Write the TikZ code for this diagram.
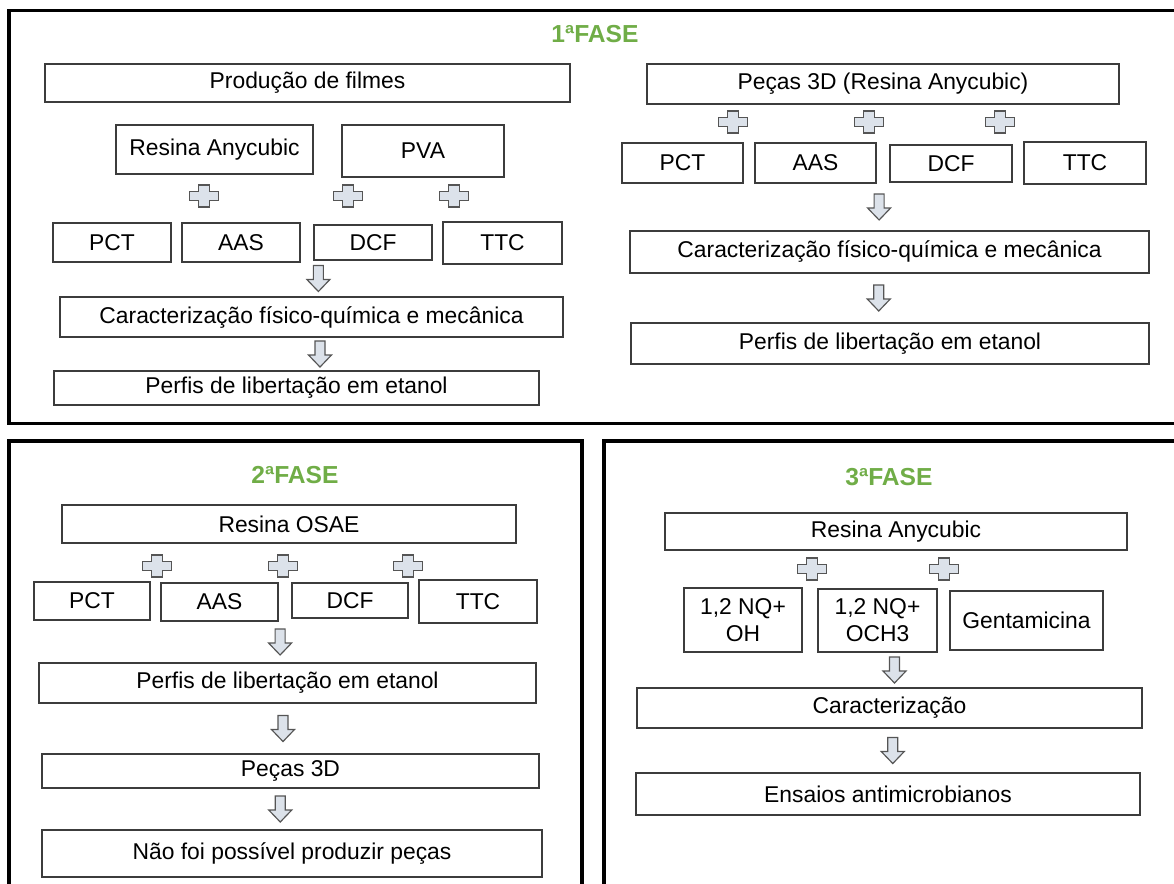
\documentclass[tikz,border=0pt]{standalone}
\usepackage{fontspec}
\setmainfont{Liberation Sans}
\usetikzlibrary{calc}
\newlength{\pxu}
\setlength{\pxu}{0.03cm}
\definecolor{fasegreen}{HTML}{70AD47}
\definecolor{boxline}{HTML}{3C3C3C}
\definecolor{arrfill}{HTML}{DCE2EA}
\definecolor{arrline}{HTML}{555555}

\begin{document}
\begin{tikzpicture}[x=\pxu, y=-\pxu,
  box/.style={draw=boxline, line width=1.2pt, inner sep=0pt, align=center,
    font=\fontsize{19.5}{23}\selectfont},
  frame/.style={draw=black, line width=2.6pt},
  fase/.style={text=fasegreen, font=\fontsize{21}{24}\selectfont\bfseries},
  plussign/.pic={\draw[draw=arrline, fill=arrfill, line width=1pt]
    (-5.5,-11) -- (5.5,-11) -- (5.5,-4.75) -- (14.5,-4.75) -- (14.5,4.75) -- (5.5,4.75)
    -- (5.5,11) -- (-5.5,11) -- (-5.5,4.75) -- (-14.5,4.75) -- (-14.5,-4.75) -- (-5.5,-4.75) -- cycle;},
  downarr/.pic={\draw[draw=arrline, fill=arrfill, line width=1pt]
    (-5,-13) -- (5,-13) -- (5,1) -- (11.5,1) -- (0,13) -- (-11.5,1) -- (-5,1) -- cycle;}]
  \useasboundingbox (0,0) rectangle (1174,883);

  % frames
  \draw[frame] (9,10.5) rectangle (1185,423.5);
  \draw[frame] (9,441) rectangle (582,895);
  \draw[frame] (604,441) rectangle (1185,895);

  % 1a fase, filmes
  \node[fase] (f1) at (595,34) {1ªFASE};
  \node[box, minimum width=525\pxu, minimum height=38\pxu] (prod1) at (307.5,83) {Produção de filmes};
  \node[box, minimum width=197\pxu, minimum height=49\pxu] (resina1) at (214.5,149.5) {Resina Anycubic};
  \node[box, minimum width=162\pxu, minimum height=52\pxu] (pva1) at (423,151) {PVA};
  \pic (pa1) at (204,196) {plussign};
  \pic (pa2) at (348,196) {plussign};
  \pic (pa3) at (454,196) {plussign};
  \node[box, minimum width=118\pxu, minimum height=39\pxu] (pct1) at (112,242.5) {PCT};
  \node[box, minimum width=118\pxu, minimum height=39\pxu] (aas1) at (241,242.5) {AAS};
  \node[box, minimum width=118\pxu, minimum height=35\pxu] (dcf1) at (373,242.5) {DCF};
  \node[box, minimum width=119\pxu, minimum height=42\pxu] (ttc1) at (502.5,243) {TTC};
  \node[box, minimum width=503\pxu, minimum height=40\pxu] (car1) at (311.5,317) {Caracterização físico-química e mecânica};
  \node[box, minimum width=485\pxu, minimum height=34\pxu] (per1) at (296.5,388) {Perfis de libertação em etanol};
  \path (dcf1.south west) -- (car1.north) pic[pos=.5, xshift=6\pxu] {downarr};
  \path (car1.south) -- (per1.north) pic[pos=.5, xshift=16\pxu] {downarr};

  % 1a fase, pecas 3D
  \node[box, minimum width=472\pxu, minimum height=40\pxu] (pecas1) at (883,84) {Peças 3D (Resina Anycubic)};
  \pic (pb1) at (733,122) {plussign};
  \pic (pb2) at (869,122) {plussign};
  \pic (pb3) at (1000,122) {plussign};
  \node[box, minimum width=121\pxu, minimum height=40\pxu] (pct2) at (682.5,163) {PCT};
  \node[box, minimum width=121\pxu, minimum height=40\pxu] (aas2) at (815.5,163) {AAS};
  \node[box, minimum width=122\pxu, minimum height=37\pxu] (dcf2) at (951,163.5) {DCF};
  \node[box, minimum width=122\pxu, minimum height=42\pxu] (ttc2) at (1085,163) {TTC};
  \node[box, minimum width=519\pxu, minimum height=42\pxu] (car2) at (889.5,252) {Caracterização físico-química e mecânica};
  \node[box, minimum width=518\pxu, minimum height=41\pxu] (per2) at (890,343.5) {Perfis de libertação em etanol};
  \path (aas2.south east) -- (car2.north) pic[pos=.5, xshift=-4\pxu] {downarr};
  \path (car2.south) -- (per2.north) pic[pos=.5, xshift=-11\pxu] {downarr};

  % 2a fase
  \node[fase] (f2) at (295,475) {2ªFASE};
  \node[box, minimum width=454\pxu, minimum height=38\pxu] (osae) at (289,524) {Resina OSAE};
  \pic (pc1) at (157,566) {plussign};
  \pic (pc2) at (283,566) {plussign};
  \pic (pc3) at (408,566) {plussign};
  \node[box, minimum width=116\pxu, minimum height=38\pxu] (pct3) at (92,601) {PCT};
  \node[box, minimum width=117\pxu, minimum height=38\pxu] (aas3) at (219.5,602) {AAS};
  \node[box, minimum width=116\pxu, minimum height=35\pxu] (dcf3) at (350,600.5) {DCF};
  \node[box, minimum width=118\pxu, minimum height=43\pxu] (ttc3) at (478,601.5) {TTC};
  \node[box, minimum width=497\pxu, minimum height=40\pxu] (per3) at (287.5,683) {Perfis de libertação em etanol};
  \node[box, minimum width=497\pxu, minimum height=34\pxu] (pec3) at (290.5,771) {Peças 3D};
  \node[box, minimum width=500\pxu, minimum height=47\pxu] (nao) at (292,853.5) {Não foi possível produzir peças};
  \path (aas3.south east) -- (per3.north) pic[pos=.5, xshift=-3\pxu] {downarr};
  \path (per3.south) -- (pec3.north) pic[pos=.5, xshift=-6\pxu] {downarr};
  \path (pec3.south) -- (nao.north) pic[pos=.5, xshift=-11\pxu] {downarr};

  % 3a fase
  \node[fase] (f3) at (889,477) {3ªFASE};
  \node[box, minimum width=462\pxu, minimum height=37\pxu] (res3) at (896,531.5) {Resina Anycubic};
  \pic (pd1) at (812,569) {plussign};
  \pic (pd2) at (944,569) {plussign};
  \node[box, minimum width=118\pxu, minimum height=64\pxu] (oh) at (743,620) {1,2 NQ+\\OH};
  \node[box, minimum width=119\pxu, minimum height=63\pxu] (och) at (877.5,620.5) {1,2 NQ+\\OCH3};
  \node[box, minimum width=153\pxu, minimum height=59\pxu] (gen) at (1026.5,620.5) {Gentamicina};
  \node[box, minimum width=505\pxu, minimum height=40\pxu] (car3) at (889.5,708) {Caracterização};
  \node[box, minimum width=504\pxu, minimum height=42\pxu] (ens) at (888,794) {Ensaios antimicrobianos};
  \path (och.south) -- (car3.north) pic[pos=.5, xshift=11\pxu] {downarr};
  \path (car3.south) -- (ens.north) pic[pos=.5, xshift=4\pxu] {downarr};
\end{tikzpicture}
\end{document}
